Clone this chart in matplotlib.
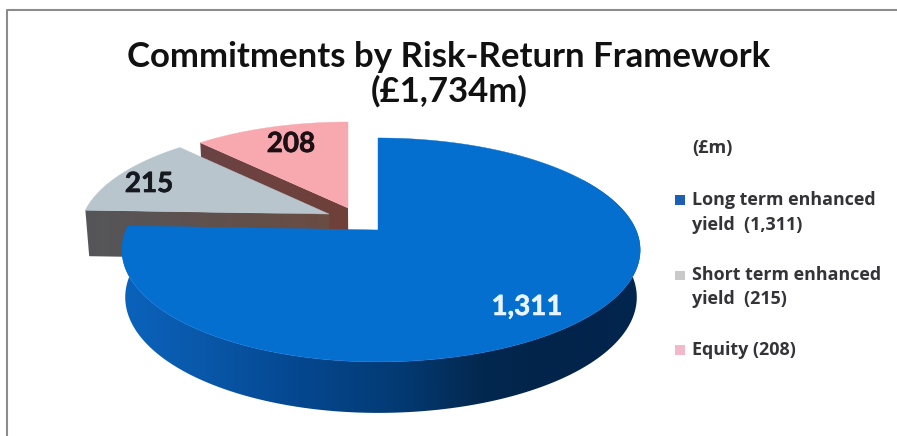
import numpy as np
import matplotlib
matplotlib.use("Agg")
import matplotlib.pyplot as plt
from matplotlib.colors import to_rgb
from matplotlib.patches import Polygon, Rectangle
from matplotlib.lines import Line2D
import matplotlib.patheffects as pe

categories = ["Long term enhanced\nyield  (1,311)", "Short term enhanced\nyield  (215)", "Equity (208)"]
values = [1311, 215, 208]
value_labels = ["1,311", "215", "208"]
title_lines = ["Commitments by Risk-Return Framework", "(£1,734m)"]
unit_label = "(£m)"

top_colors = ["#056fd0", "#b9c5cd", "#f8a9af"]
swatch_colors = ["#1d5fb2", "#c9c9c9", "#f1b9c9"]
title_font = "Lato"
legend_font = "Open Sans"

# Perspective disc: apex position, radii and foreshortening in pixels
APEX_X, APEX_Y = 378.0, 230.0
RAD_RIGHT, RAD_LEFT, RAD_Y, PERSP = 258.0, 252.0, 108.4, 0.178
# Pulled-out slices: sideways shift in pixels, shift along the disc plane
EXPLODE = [(0.0, 0.0), (-49.0, 0.151), (-30.0, 0.211)]


def rim(theta, offset):
    u = np.sin(theta)
    v = np.cos(theta) + offset[1]
    w = 1 + PERSP * v
    rad = np.where(u < 0, RAD_LEFT, RAD_RIGHT)
    return APEX_X + offset[0] + rad * u / w, APEX_Y - RAD_Y * v / w


def apex(offset):
    v = offset[1]
    w = 1 + PERSP * v
    return APEX_X + offset[0], APEX_Y - RAD_Y * v / w


def lower(x, y):
    """Point on the underside of the disc below a point on its top face."""
    depth = 46 + 0.033 * (y - 210)
    return APEX_X + (x - APEX_X) * 0.987, y + depth


fig = plt.figure(figsize=(8.97, 4.36), dpi=100)
ax = fig.add_axes([0, 0, 1, 1])
ax.axis("off")

# Frame along the top and left edges
ax.add_line(Line2D([7, 7, 897], [436, 10, 10], color="#8c8c8c", lw=1.5, zorder=1))

fractions = np.array(values) / np.sum(values)
edges = np.concatenate([[0], np.cumsum(fractions) * 2 * np.pi])
angles = [(edges[i], edges[i + 1]) for i in range(len(values))]

layer = [2]


def next_z():
    layer[0] += 1
    return layer[0]


def top_face(i):
    t0, t1 = angles[i]
    theta = np.linspace(t0, t1, 240)
    xs, ys = rim(theta, EXPLODE[i])
    ax0, ay0 = apex(EXPLODE[i])
    poly = np.column_stack([np.r_[ax0, xs], np.r_[ay0, ys]])
    ax.add_patch(Polygon(poly, closed=True, fc=top_colors[i], ec=top_colors[i], lw=0.3, zorder=next_z()))


def gradient_fill(points, stops_x, stop_colors):
    """Fill a polygon with a left-to-right colour ramp."""
    points = np.asarray(points)
    x0, x1 = points[:, 0].min() - 1, points[:, 0].max() + 1
    grid = np.linspace(x0, x1, 512)
    rgb = np.array([to_rgb(c) for c in stop_colors])
    ramp = np.stack([np.interp(grid, stops_x, rgb[:, c]) for c in range(3)], axis=-1)[None, :, :]
    image = ax.imshow(ramp, extent=(x0, x1, points[:, 1].max() + 1, points[:, 1].min() - 1),
                      aspect="auto", interpolation="bilinear", zorder=next_z())
    image.set_clip_path(Polygon(points, closed=True, transform=ax.transData))


def radial_side(theta, offset, left_color, right_color):
    """Shaded cut face of a slice along the radius at angle theta."""
    x0, y0 = rim(theta, offset)
    x1, y1 = apex(offset)
    bx0, by0 = lower(x0, y0)
    bx1, by1 = lower(x1, y1)
    gradient_fill([(x0, y0), (x1, y1), (bx1, by1), (bx0, by0)],
                  [min(x0, bx0), max(x1, bx1)], [left_color, right_color])


# Back slices first, so that nearer ones cover them
radial_side(angles[2][0], EXPLODE[2], "#6b4344", "#6f4039")
top_face(2)

radial_side(angles[1][0], EXPLODE[1], "#55565a", "#6a4c42")
top_face(1)

# Outer wall of the large slice, darkening towards the right
wall_x = [120, 200, 300, 400, 480, 560, 640]
wall_colors = ["#0b63bc", "#0958aa", "#05478f", "#033a73", "#03284f", "#02234a", "#03264f"]
theta = np.linspace(np.radians(60), angles[0][1], 400)
xs, ys = rim(theta, EXPLODE[0])
bx, by = lower(xs, ys)
gradient_fill(np.column_stack([np.r_[xs, bx[::-1]], np.r_[ys, by[::-1]]]), wall_x, wall_colors)
top_face(0)

# Value labels on the slices
thick = [pe.withStroke(linewidth=0.5, foreground="#16191f")]
thick_white = [pe.withStroke(linewidth=0.4, foreground="#e8f4ff")]
label_z = next_z()
ax.text(527, 307, value_labels[0], color="#e8f4ff", fontsize=20, fontweight="bold", family=title_font,
        ha="center", va="center", path_effects=thick_white, zorder=label_z)
ax.text(149, 184, value_labels[1], color="#16191f", fontsize=20, fontweight="bold", family=title_font,
        ha="center", va="center", path_effects=thick, zorder=label_z)
ax.text(291, 144, value_labels[2], color="#1d0f14", fontsize=20, fontweight="bold", family=title_font,
        ha="center", va="center", path_effects=thick, zorder=label_z)

# Title
for row_y, row in zip([57, 91], title_lines):
    ax.text(449, row_y, row, color="#111111", fontsize=25, fontweight="bold", family=title_font,
            ha="center", va="center", zorder=label_z)

# Legend
legend_ink = "#333338"
ax.text(692, 148, unit_label, color=legend_ink, fontsize=13, fontweight="bold",
        family=legend_font, ha="left", va="center", zorder=label_z)
swatches = [(195, 10), (271, 9), (345, 10)]
text_rows = [[200, 225], [275, 299], [350]]
for i, name in enumerate(categories):
    top, size = swatches[i]
    ax.add_patch(Rectangle((675, top), 10, size, fc=swatch_colors[i], ec="none", zorder=label_z))
    for row_y, row in zip(text_rows[i], name.split("\n")):
        ax.text(692, row_y, row, color=legend_ink, fontsize=12.85, fontweight="bold",
                family=legend_font, ha="left", va="center", zorder=label_z)

ax.set_xlim(0, 897)
ax.set_ylim(436, 0)
fig.savefig("out.png", dpi=100)
